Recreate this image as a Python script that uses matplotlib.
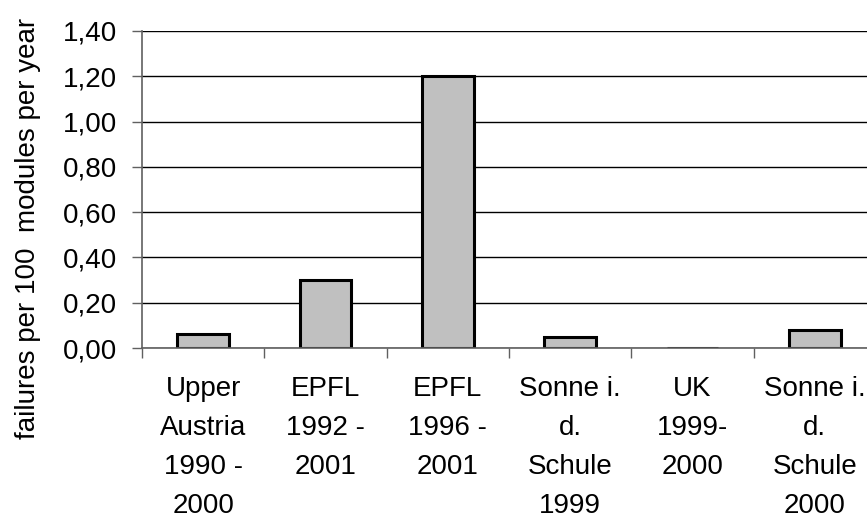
import numpy as np
import matplotlib.pyplot as plt

plt.rcParams['font.family'] = ['Liberation Sans', 'DejaVu Sans']

# data
categories = ['Upper\nAustria\n1990 -\n2000', 'EPFL\n1992 -\n2001', 'EPFL\n1996 -\n2001',
              'Sonne i.\nd.\nSchule\n1999', 'UK\n1999-\n2000', 'Sonne i.\nd.\nSchule\n2000']
failures = [0.06, 0.30, 1.20, 0.05, 0.0, 0.08]
yticks = [0.0, 0.2, 0.4, 0.6, 0.8, 1.0, 1.2, 1.4]

fig = plt.figure(figsize=(8.67, 5.19), dpi=100)
ax = fig.add_axes([142/867, 171/519, 734/867, 317/519])

x = np.arange(len(categories))
ax.bar(x, failures, width=0.42, color='#c0c0c0', edgecolor='black', linewidth=2.2, zorder=2)

ax.set_xlim(-0.5, len(categories) - 0.5)
ax.set_ylim(0, 1.4)
ax.set_yticks(yticks)
ax.set_yticklabels([('%.2f' % v).replace('.', ',') for v in yticks], fontsize=20)
ax.yaxis.grid(True, color='black', linewidth=1.0, zorder=0)
ax.set_axisbelow(True)

# category boundary ticks on x axis, labels centred in between
ax.set_xticks(np.arange(len(categories) + 1) - 0.5)
ax.set_xticklabels([])
ax.set_xticks(x, minor=True)
ax.set_xticklabels(categories, minor=True, fontsize=20, linespacing=1.65)
ax.tick_params(axis='x', which='minor', length=0, pad=20)
ax.tick_params(axis='x', which='major', length=7, width=1, color='#606060', direction='out')
ax.tick_params(axis='y', length=7, width=1, color='#606060', pad=11)

for side in ['top', 'right']:
    ax.spines[side].set_visible(False)
for side in ['left', 'bottom']:
    ax.spines[side].set_color('#606060')
    ax.spines[side].set_linewidth(1.2)
    ax.spines[side].set_zorder(3)

fig.text(28/867, 1 - 228/519, 'failures per 100  modules per year', rotation=90,
         ha='center', va='center', fontsize=20)

fig.savefig('out.png', dpi=100)
